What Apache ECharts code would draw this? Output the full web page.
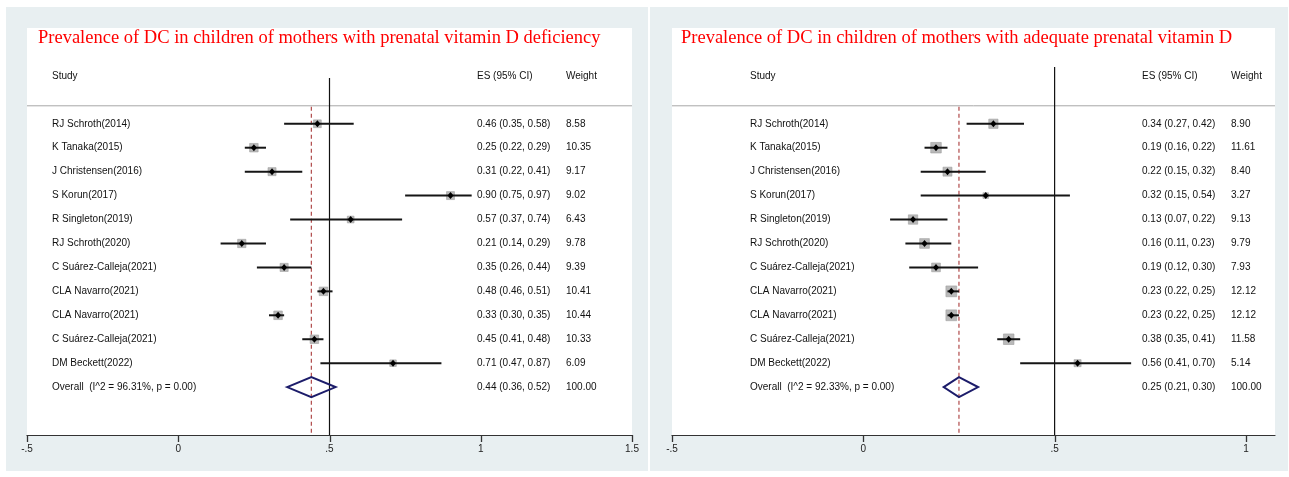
<!DOCTYPE html>
<html>
<head>
<meta charset="utf-8">
<script src="https://cdn.jsdelivr.net/npm/echarts@6/dist/echarts.min.js"></script>
<style>
  html, body { margin: 0; padding: 0; background: #ffffff; }
  #wrap { position: relative; width: 1289px; height: 477px; }
  .panel { position: absolute; background: #e8eff1; }
  #chart { position: absolute; left: 0; top: 0; width: 1289px; height: 477px; }
</style>
</head>
<body>
<div id="wrap">
  <div class="panel" style="left:6px; top:7px; width:642px; height:464px;"></div>
  <div class="panel" style="left:650px; top:7px; width:638px; height:464px;"></div>
  <div id="chart"></div>
</div>
<script>
// ---------- data ----------
const studies = [
  'RJ Schroth(2014)', 'K Tanaka(2015)', 'J Christensen(2016)', 'S Korun(2017)',
  'R Singleton(2019)', 'RJ Schroth(2020)', 'C Suárez-Calleja(2021)', 'CLA Navarro(2021)',
  'CLA Navarro(2021)', 'C Suárez-Calleja(2021)', 'DM Beckett(2022)'
];
// Left panel: prenatal vitamin D deficiency
const esDef  = [0.46, 0.25, 0.31, 0.90, 0.57, 0.21, 0.35, 0.48, 0.33, 0.45, 0.71];
const loDef  = [0.35, 0.22, 0.22, 0.75, 0.37, 0.14, 0.26, 0.46, 0.30, 0.41, 0.47];
const hiDef  = [0.58, 0.29, 0.41, 0.97, 0.74, 0.29, 0.44, 0.51, 0.35, 0.48, 0.87];
const wDef   = [8.58, 10.35, 9.17, 9.02, 6.43, 9.78, 9.39, 10.41, 10.44, 10.33, 6.09];
const overallDef = [0.44, 0.36, 0.52, 100.00];
const hetDef = ['96.31%', '0.00'];
// Right panel: adequate prenatal vitamin D
const esAdq  = [0.34, 0.19, 0.22, 0.32, 0.13, 0.16, 0.19, 0.23, 0.23, 0.38, 0.56];
const loAdq  = [0.27, 0.16, 0.15, 0.15, 0.07, 0.11, 0.12, 0.22, 0.22, 0.35, 0.41];
const hiAdq  = [0.42, 0.22, 0.32, 0.54, 0.22, 0.23, 0.30, 0.25, 0.25, 0.41, 0.70];
const wAdq   = [8.90, 11.61, 8.40, 3.27, 9.13, 9.79, 7.93, 12.12, 12.12, 11.58, 5.14];
const overallAdq = [0.25, 0.21, 0.30, 100.00];
const hetAdq = ['92.33%', '0.00'];

const titles = [
  'Prevalence of DC in children of mothers with prenatal vitamin D deficiency',
  'Prevalence of DC in children of mothers with adequate prenatal vitamin D'
];
const headers = ['Study', 'ES (95% CI)', 'Weight'];
const tickValsL = [-0.5, 0, 0.5, 1, 1.5];
const tickValsR = [-0.5, 0, 0.5, 1];
const tickLabels = ['-.5', '0', '.5', '1', '1.5'];
const nullValue = 0.5;

// ---------- helpers ----------
const SANS = '"Liberation Sans", Arial, sans-serif';
const f2 = v => v.toFixed(2);

function studyData(es, lo, hi, w) {
  return es.map((e, i) => [e, lo[i], hi[i], w[i], i]);
}

function makeStudyRender(boxK) {
  return function (params, api) {
    const es = api.value(0), lo = api.value(1), hi = api.value(2), w = api.value(3), row = api.value(4);
    const c = api.coord([es, row]);
    const l = api.coord([lo, row]);
    const h = api.coord([hi, row]);
    const s = boxK * Math.sqrt(w);
    return {
      type: 'group',
      children: [
        { type: 'rect', shape: { x: c[0] - s / 2, y: c[1] - s / 2, width: s, height: s },
          style: { fill: '#b9b9b9', stroke: '#a0a0a0', lineWidth: 0.6 } },
        { type: 'line', shape: { x1: l[0], y1: l[1], x2: h[0], y2: h[1] },
          style: { stroke: '#151515', lineWidth: 2 } },
        { type: 'polygon', shape: { points: [[c[0], c[1] - 3.5], [c[0] + 3, c[1]], [c[0], c[1] + 3.5], [c[0] - 3, c[1]]] },
          style: { fill: '#000' } }
      ]
    };
  };
}

function overallRender(params, api) {
  const es = api.value(0), lo = api.value(1), hi = api.value(2), row = api.value(3);
  const c = api.coord([es, row]);
  const l = api.coord([lo, row]);
  const h = api.coord([hi, row]);
  return {
    type: 'polygon',
    shape: { points: [[l[0], c[1]], [c[0], c[1] - 10], [h[0], c[1]], [c[0], c[1] + 10]] },
    style: { fill: 'none', stroke: '#1c1c6a', lineWidth: 2 }
  };
}

function makeRefRender(nullTop, ticks) {
  return function (params, api) {
    const cs = params.coordSys;
    const pooled = api.value(0);
    const xd = api.coord([pooled, 0])[0];
    const xn = api.coord([nullValue, 0])[0];
    const ySep = api.coord([0, -0.75])[1];
    const bottom = cs.y + cs.height;
    const children = [
      { type: 'line', shape: { x1: cs.x, y1: ySep, x2: cs.x + cs.width, y2: ySep },
        style: { stroke: '#a8a8a8', lineWidth: 1 } },
      { type: 'line', shape: { x1: xn, y1: cs.y + nullTop, x2: xn, y2: bottom },
        style: { stroke: '#111', lineWidth: 1.2 } },
      { type: 'line', shape: { x1: xd, y1: ySep + 1, x2: xd, y2: bottom },
        style: { stroke: '#b04a4a', lineWidth: 1.2, lineDash: [4, 3] } }
    ];
    // axis tick marks at the tick values (through the x scale)
    ticks.forEach(t => {
      const xt = Math.round(api.coord([t, 0])[0]) + 0.5;
      children.push({ type: 'line', shape: { x1: xt, y1: bottom, x2: xt, y2: bottom + 7 },
        style: { stroke: '#333', lineWidth: 1.3 } });
    });
    return { type: 'group', children: children };
  };
}

function makeTextRender(cols) {
  // cols: pixel offsets from grid left for [study, es, weight]
  return function (params, api) {
    const cs = params.coordSys;
    const row = api.value(1);
    const y = api.coord([0, row])[1];
    const texts = currentTexts[params.seriesName][params.dataIndex];
    return {
      type: 'group',
      children: texts.map((t, k) => ({
        type: 'text',
        style: { x: cs.x + cols[k], y: y, text: t, fill: '#111', font: '10px ' + SANS,
                 textAlign: 'left', textVerticalAlign: 'middle' }
      }))
    };
  };
}

function buildTexts(es, lo, hi, w, overall, het) {
  const rows = [];
  rows.push({ row: -2, t: headers.slice() });
  es.forEach((e, i) => rows.push({ row: i, t: [studies[i], `${f2(e)} (${f2(lo[i])}, ${f2(hi[i])})`, f2(w[i])] }));
  rows.push({ row: es.length, t: [`Overall  (I^2 = ${het[0]}, p = ${het[1]})`,
    `${f2(overall[0])} (${f2(overall[1])}, ${f2(overall[2])})`, f2(overall[3])] });
  return rows;
}
const textsL = buildTexts(esDef, loDef, hiDef, wDef, overallDef, hetDef);
const textsR = buildTexts(esAdq, loAdq, hiAdq, wAdq, overallAdq, hetAdq);
const currentTexts = { textL: textsL.map(r => r.t), textR: textsR.map(r => r.t) };

function xAxisCfg(gi, max, ticks) {
  return {
    gridIndex: gi, type: 'value', min: -0.5, max: max, interval: 0.5,
    splitLine: { show: false },
    axisLine: { onZero: false, lineStyle: { color: '#333', width: 1.2 } },
    axisTick: { show: false },
    axisLabel: { customValues: ticks, color: '#222', fontSize: 10, fontFamily: SANS, margin: 9,
      formatter: v => { const i = tickValsL.findIndex(t => Math.abs(t - v) < 1e-9); return i >= 0 ? tickLabels[i] : ''; } }
  };
}
function yAxisCfg(gi) {
  return { gridIndex: gi, type: 'value', min: -4, max: 13, inverse: true, show: false };
}

const TITLE_FONT = '"Liberation Serif", "Times New Roman", serif';
const chart = echarts.init(document.getElementById('chart'), null, { renderer: 'canvas' });
chart.setOption({
  backgroundColor: 'transparent',
  animation: false,
  title: [
    { text: titles[0], left: 38, top: 29, padding: 0,
      textStyle: { color: '#ff0000', fontFamily: TITLE_FONT, fontSize: 18.5, fontWeight: 'normal' } },
    { text: titles[1], left: 681, top: 29, padding: 0,
      textStyle: { color: '#ff0000', fontFamily: TITLE_FONT, fontSize: 18.5, fontWeight: 'normal' } }
  ],
  grid: [
    { left: 27, top: 28, width: 605, height: 407, show: true, backgroundColor: '#ffffff', borderWidth: 0 },
    { left: 672, top: 28, width: 603, height: 407, show: true, backgroundColor: '#ffffff', borderWidth: 0 }
  ],
  xAxis: [xAxisCfg(0, 1.5, tickValsL), xAxisCfg(1, 1.076, tickValsR)],
  yAxis: [yAxisCfg(0), yAxisCfg(1)],
  series: [
    { type: 'custom', name: 'refL', xAxisIndex: 0, yAxisIndex: 0, clip: false, silent: true,
      renderItem: makeRefRender(50, tickValsL), data: [[overallDef[0], 0]], encode: { x: 0, y: 1 }, z: 1 },
    { type: 'custom', name: 'refR', xAxisIndex: 1, yAxisIndex: 1, clip: false, silent: true,
      renderItem: makeRefRender(39, tickValsR), data: [[overallAdq[0], 0]], encode: { x: 0, y: 1 }, z: 1 },
    { type: 'custom', name: 'studiesL', xAxisIndex: 0, yAxisIndex: 0, clip: false, silent: true,
      renderItem: makeStudyRender(2.65), data: studyData(esDef, loDef, hiDef, wDef), encode: { x: [0, 1, 2], y: 4 }, z: 3 },
    { type: 'custom', name: 'studiesR', xAxisIndex: 1, yAxisIndex: 1, clip: false, silent: true,
      renderItem: makeStudyRender(3.1), data: studyData(esAdq, loAdq, hiAdq, wAdq), encode: { x: [0, 1, 2], y: 4 }, z: 3 },
    { type: 'custom', name: 'overallL', xAxisIndex: 0, yAxisIndex: 0, clip: false, silent: true,
      renderItem: overallRender, data: [[overallDef[0], overallDef[1], overallDef[2], esDef.length]], encode: { x: [0, 1, 2], y: 3 }, z: 3 },
    { type: 'custom', name: 'overallR', xAxisIndex: 1, yAxisIndex: 1, clip: false, silent: true,
      renderItem: overallRender, data: [[overallAdq[0], overallAdq[1], overallAdq[2], esAdq.length]], encode: { x: [0, 1, 2], y: 3 }, z: 3 },
    { type: 'custom', name: 'textL', xAxisIndex: 0, yAxisIndex: 0, clip: false, silent: true,
      renderItem: makeTextRender([25, 450, 539]), data: textsL.map(r => [0, r.row]), encode: { x: 0, y: 1 }, z: 4 },
    { type: 'custom', name: 'textR', xAxisIndex: 1, yAxisIndex: 1, clip: false, silent: true,
      renderItem: makeTextRender([78, 470, 559]), data: textsR.map(r => [0, r.row]), encode: { x: 0, y: 1 }, z: 4 }
  ]
});
</script>
</body>
</html>
